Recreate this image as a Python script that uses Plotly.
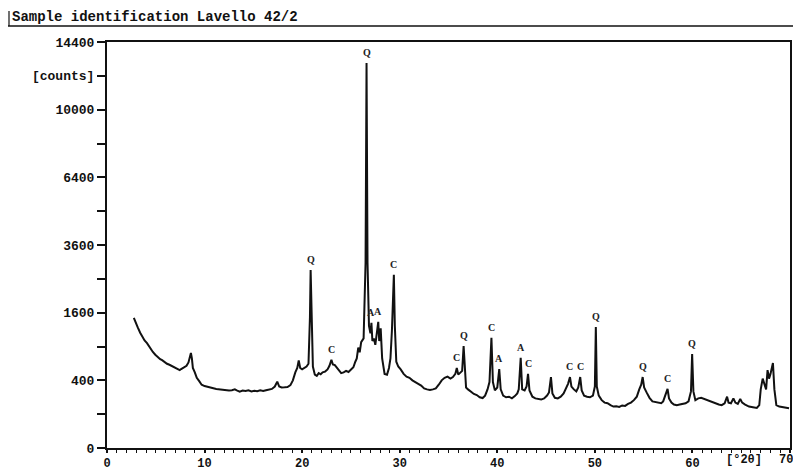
import numpy as np
import plotly.graph_objects as go

# ---- data ----
two_theta = [
    2.75, 2.95, 3.15, 3.4, 3.6, 3.85, 4.1, 4.3, 4.5, 4.7, 4.95, 5.2, 5.45, 5.65, 5.9, 6.15, 6.4, 6.6, 6.8, 7.0,
    7.2, 7.45, 7.6, 7.8, 8.0, 8.15, 8.35, 8.5, 8.6, 8.7, 8.8, 9.0, 9.2, 9.45, 9.7, 10.0, 10.3, 10.6, 10.9, 11.2,
    11.5, 11.9, 12.2, 12.5, 12.8, 13.1, 13.3, 13.6, 13.9, 14.2, 14.5, 14.8, 15.1, 15.4, 15.7, 16.0, 16.3, 16.6, 16.9, 17.2,
    17.45, 17.65, 17.9, 18.2, 18.5, 18.8, 19.05, 19.3, 19.5, 19.65, 19.8, 20.0, 20.2, 20.45, 20.65, 20.8, 20.87, 20.95, 21.1, 21.3,
    21.5, 21.7, 21.9, 22.1, 22.35, 22.6, 22.8, 23.0, 23.15, 23.35, 23.55, 23.8, 24.0, 24.25, 24.5, 24.75, 25.0, 25.25, 25.45, 25.6,
    25.75, 25.9, 26.05, 26.3, 26.5, 26.6, 26.7, 26.85, 27.0, 27.1, 27.2, 27.35, 27.5, 27.65, 27.8, 27.9, 28.05, 28.2, 28.45, 28.7,
    28.9, 29.05, 29.2, 29.4, 29.5, 29.65, 29.85, 30.1, 30.4, 30.7, 31.0, 31.3, 31.6, 31.9, 32.2, 32.5, 32.8, 33.1, 33.4, 33.7,
    34.0, 34.3, 34.6, 34.9, 35.2, 35.45, 35.7, 35.85, 36.0, 36.2, 36.4, 36.55, 36.65, 36.8, 37.0, 37.3, 37.6, 37.9, 38.2, 38.5,
    38.75, 39.0, 39.2, 39.4, 39.55, 39.75, 40.0, 40.2, 40.35, 40.6, 40.9, 41.2, 41.5, 41.8, 42.05, 42.2, 42.4, 42.55, 42.8, 43.0,
    43.15, 43.3, 43.6, 43.9, 44.2, 44.5, 44.8, 45.1, 45.3, 45.5, 45.65, 45.9, 46.2, 46.5, 46.8, 47.0, 47.25, 47.45, 47.6, 47.85,
    48.1, 48.3, 48.5, 48.65, 48.9, 49.2, 49.5, 49.8, 50.0, 50.1, 50.2, 50.4, 50.7, 51.0, 51.3, 51.6, 51.9, 52.2, 52.5, 52.8,
    53.1, 53.4, 53.7, 54.0, 54.3, 54.55, 54.75, 54.9, 55.05, 55.3, 55.6, 55.9, 56.2, 56.5, 56.8, 57.0, 57.2, 57.45, 57.6, 57.85,
    58.1, 58.4, 58.7, 59.0, 59.3, 59.6, 59.85, 59.97, 60.1, 60.3, 60.6, 60.9, 61.2, 61.5, 61.8, 62.1, 62.4, 62.7, 63.0, 63.3,
    63.55, 63.7, 63.95, 64.2, 64.4, 64.65, 64.9, 65.1, 65.4, 65.8, 66.2, 66.6, 66.85, 67.0, 67.2, 67.4, 67.55, 67.7, 67.85, 68.0,
    68.15, 68.25, 68.4, 68.6, 68.9, 69.2, 69.6, 69.9,
]
counts = [
    1480, 1390, 1270, 1160, 1080, 1010, 960, 900, 850, 805, 760, 720, 690, 675, 640, 620, 605, 590, 575, 560,
    545, 530, 545, 565, 575, 590, 640, 720, 790, 700, 560, 500, 430, 390, 350, 335, 325, 318, 312, 305,
    300, 294, 290, 288, 292, 300, 290, 278, 288, 283, 290, 280, 287, 282, 290, 285, 292, 297, 305, 330,
    385, 330, 320, 322, 325, 345, 400, 500, 560, 670, 560, 540, 560, 580, 620, 1500, 2770, 1500, 580, 470,
    455, 490, 475, 500, 510, 540, 590, 680, 610, 600, 560, 510, 490, 500, 520, 505, 540, 570, 650, 700,
    880, 800, 980, 1050, 3000, 12950, 3000, 1300, 1150, 1370, 1000, 1050, 930, 1200, 1390, 1000, 1250, 700, 480, 470,
    560, 700, 1200, 2620, 1300, 650, 580, 540, 480, 445, 430, 400, 375, 360, 340, 310, 300, 294, 300, 310,
    350, 400, 430, 445, 420, 440, 480, 560, 470, 500, 520, 910, 600, 320, 300, 280, 255, 245, 225, 218,
    240, 300, 380, 1060, 380, 290, 320, 545, 300, 240, 225, 230, 215, 235, 260, 300, 710, 300, 290, 330,
    480, 290, 230, 215, 210, 205, 215, 240, 270, 440, 260, 220, 215, 230, 260, 300, 360, 440, 330, 300,
    280, 320, 440, 290, 240, 230, 225, 240, 330, 1280, 330, 240, 200, 180, 175, 160, 150, 152, 147, 158,
    155, 170, 180, 200, 230, 300, 350, 440, 320, 270, 220, 190, 185, 178, 175, 190, 230, 305, 215, 180,
    165, 160, 165, 170, 175, 190, 280, 770, 280, 200, 215, 220, 210, 200, 190, 180, 170, 165, 160, 175,
    230, 180, 175, 215, 180, 170, 210, 180, 165, 150, 145, 140, 160, 300, 420, 360, 300, 530, 420, 480,
    560, 630, 300, 160, 150, 145, 140, 138,
]

# phase labels: Q = quartz, C = calcite, A = albite
label_theta = [20.87, 23.0, 26.6, 27.1, 27.8, 29.4, 35.85, 36.55, 39.4, 40.2, 42.4, 43.15, 47.45, 48.5, 50.1, 54.9, 57.45, 59.97]
label_counts = [2770, 680, 12950, 1370, 1390, 2620, 560, 910, 1060, 545, 710, 480, 440, 440, 1280, 440, 305, 770]
label_text = ["Q", "C", "Q", "A", "A", "C", "C", "Q", "C", "A", "A", "C", "C", "C", "Q", "Q", "C", "Q"]

y_tick_counts = [0, 100, 400, 900, 1600, 2500, 3600, 4900, 6400, 8100, 10000, 12100, 14400]
y_tick_text = ["0", "", "400", "", "1600", "", "3600", "", "6400", "", "10000", "[counts]", "14400"]
x_tick_vals = [0, 10, 20, 30, 40, 50, 60, 70]
x_tick_text = ["0", "10", "20", "30", "40", "50", "60", ""]
x_end_label = "70"
title_text = "Sample identification Lavello 42/2"
x_unit_text = "[°2θ]"

# ---- figure ----
MONO = "Liberation Mono"
INK = "#111111"
y_sqrt = np.sqrt(np.array(counts, dtype=float))

fig = go.Figure()
fig.add_trace(go.Scatter(
    x=two_theta, y=y_sqrt, mode="lines",
    line=dict(color=INK, width=2), hoverinfo="skip", showlegend=False,
))

for t, c, s in zip(label_theta, label_counts, label_text):
    fig.add_annotation(
        x=t, y=float(np.sqrt(c)), text=s, showarrow=False,
        yanchor="bottom", yshift=3,
        font=dict(family="Liberation Serif", size=10, color="#222", weight="bold"),
    )

fig.add_annotation(
    x=65.3, y=0, xref="x", yref="paper", text=x_unit_text, showarrow=False,
    yanchor="top", yshift=-3, font=dict(family=MONO, size=12, color=INK, weight="bold"),
)
# last x label kept inside the window
fig.add_annotation(
    x=70, y=0, xref="x", yref="paper", text=x_end_label, showarrow=False,
    xanchor="center", xshift=-4, yanchor="top", yshift=-3,
    font=dict(family=MONO, size=12, color=INK, weight="bold"),
)

# page body has an 8px margin: figure is placed at (8, 8)
OFF = 8
W, H = 801 - OFF, 472 - OFF
L, R, T, B = 107 - OFF, 11, 42 - OFF, 24
pw, ph = W - L - R, H - T - B


def px(xp):
    return (xp - OFF - L) / pw


def py(yp):
    return (H - B - (yp - OFF)) / ph


# title and its rule
fig.add_annotation(
    x=px(10), y=py(17), xref="paper", yref="paper", text=title_text, showarrow=False,
    xanchor="left", yanchor="middle", font=dict(family=MONO, size=14, color=INK, weight="bold"),
)
fig.add_shape(type="line", xref="paper", yref="paper", x0=px(8), x1=px(801), y0=py(26), y1=py(26),
              line=dict(color=INK, width=1.5))
fig.add_shape(type="line", xref="paper", yref="paper", x0=px(9), x1=px(9), y0=py(11), y1=py(26),
              line=dict(color=INK, width=1.2))

fig.update_xaxes(
    range=[0, 70], tickmode="array", tickvals=x_tick_vals, ticktext=x_tick_text,
    ticks="outside", ticklen=3, tickwidth=1.5, tickcolor=INK,
    minor=dict(dtick=1, ticks="outside", ticklen=3, tickwidth=1.2, tickcolor=INK),
    showline=True, linecolor=INK, linewidth=2, mirror=True, showgrid=False, zeroline=False,
    tickfont=dict(family=MONO, size=12, color=INK, weight="bold"),
)
fig.update_yaxes(
    range=[0, 120], tickmode="array",
    tickvals=[float(np.sqrt(v)) for v in y_tick_counts], ticktext=y_tick_text,
    ticks="outside", ticklen=8, tickwidth=1.5, tickcolor=INK,
    showline=True, linecolor=INK, linewidth=2, mirror=True, showgrid=False, zeroline=False,
    tickfont=dict(family=MONO, size=13, color=INK, weight="bold"),
)
fig.update_layout(
    width=W, height=H, margin=dict(l=L, r=R, t=T, b=B, autoexpand=False),
    plot_bgcolor="white", paper_bgcolor="white",
)
fig.write_html("out.html")
